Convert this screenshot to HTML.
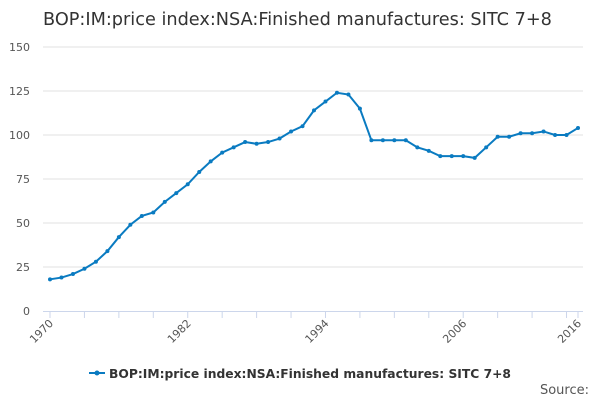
<!DOCTYPE html>
<html><head><meta charset="utf-8"><style>
body{margin:0;background:#fff;font-family:"Liberation Sans","DejaVu Sans",sans-serif}
svg text{font-family:"DejaVu Sans","Liberation Sans",sans-serif}
</style></head><body>
<svg id="c" width="600" height="400">
<text x="43" y="25" font-size="17.7" fill="#333">BOP:IM:price index:NSA:Finished manufactures: SITC 7+8</text>
<g id="grid"></g><g id="xax"></g><g id="series"></g>
<g>
<line x1="89" y1="373" x2="105" y2="373" stroke="#0a7bc1" stroke-width="2"/><circle cx="97" cy="373" r="2.5" fill="#0a7bc1"/>
<text x="109" y="378" font-size="12.3" font-weight="bold" fill="#333">BOP:IM:price index:NSA:Finished manufactures: SITC 7+8</text></g>
<text x="589" y="394" font-size="13" fill="#555" text-anchor="end">Source:</text>
</svg>
<script>
const years=[1970,1971,1972,1973,1974,1975,1976,1977,1978,1979,1980,1981,1982,1983,1984,1985,1986,1987,1988,1989,1990,1991,1992,1993,1994,1995,1996,1997,1998,1999,2000,2001,2002,2003,2004,2005,2006,2007,2008,2009,2010,2011,2012,2013,2014,2015,2016];
const values=[18,19,21,24,28,34,42,49,54,56,62,67,72,79,85,90,93,96,95,96,98,102,105,114,119,124,123,115,97,97,97,97,93,91,88,88,88,87,93,99,99,101,101,102,100,100,104];
const yTicks=[0,25,50,75,100,125,150];
const xLabels=[1970,1982,1994,2006,2016];
const NS='http://www.w3.org/2000/svg';
const X=y=>50+(y-1970)*(528/46), Y=v=>311-v*(264/150);
function mk(p,t,a){const e=document.createElementNS(NS,t);for(const k in a)e.setAttribute(k,a[k]);p.appendChild(e);return e;}
const g=document.getElementById('grid'),xa=document.getElementById('xax'),s=document.getElementById('series');
yTicks.forEach(v=>{
 if(v>0){const l=mk(g,'line',{x1:43,x2:583,y1:Y(v),y2:Y(v),stroke:'#e0e0e0'});
 
 }
 const t=mk(g,'text',{x:30,y:Y(v)+4,'font-size':11,fill:'#555','text-anchor':'end'});t.textContent=v;
 
 
});
mk(xa,'line',{x1:43,x2:583,y1:311.5,y2:311.5,stroke:'#ccd6eb'});
for(let y=1970;y<=2016;y+=3){mk(xa,'line',{x1:X(y),x2:X(y),y1:311,y2:318,stroke:'#ccd6eb'});}
mk(xa,'line',{x1:X(2016),x2:X(2016),y1:311,y2:318,stroke:'#ccd6eb'});
xLabels.forEach(y=>{const t=mk(xa,'text',{'font-size':11,fill:'#555','text-anchor':'end',transform:`translate(${X(y)+4},${324}) rotate(-45)`});t.textContent=y;
 
 });
const p=mk(s,'path',{d:values.map((v,i)=>(i?'L':'M')+X(years[i])+','+Y(v)).join(''),fill:'none',stroke:'#0a7bc1','stroke-width':2});


values.forEach((v,i)=>{const c=mk(s,'circle',{cx:X(years[i]),cy:Y(v),r:2,fill:'#0a7bc1'});
 
 });
</script>
</body></html>
